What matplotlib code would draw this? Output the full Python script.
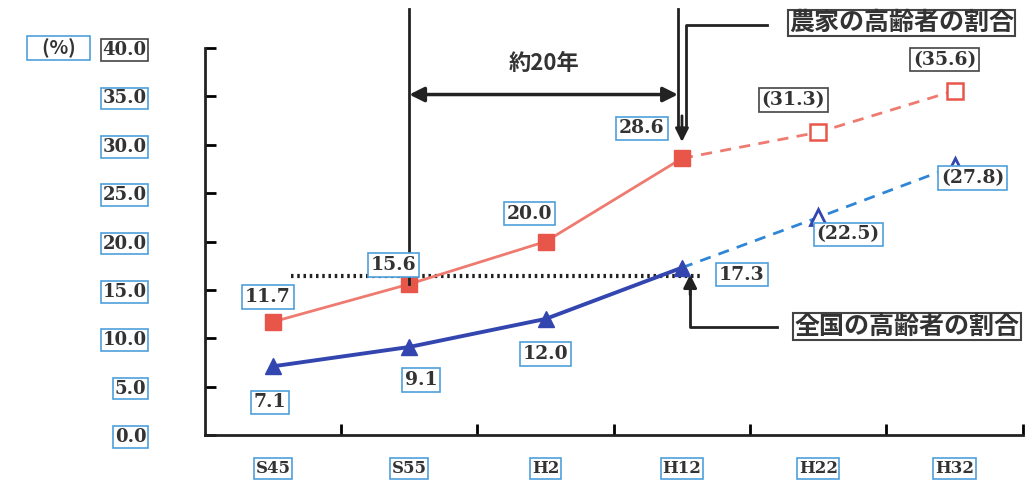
import matplotlib
matplotlib.use("Agg")
import matplotlib.pyplot as plt

plt.rcParams['font.family'] = ['Noto Sans CJK JP', 'DejaVu Sans']

# data
years = ['S45', 'S55', 'H2', 'H12', 'H22', 'H32']
farm = [11.7, 15.6, 20.0, 28.6, 31.3, 35.6]      # 農家の高齢者の割合
nation = [7.1, 9.1, 12.0, 17.3, 22.5, 27.8]     # 全国の高齢者の割合
n_actual = 4                                    # first 4 measured, rest projected
yticks = [0, 5, 10, 15, 20, 25, 30, 35, 40]

red = '#e8564a'
red_line = '#ee7a70'
blue = '#3346b0'
blue_dash = '#2f86d6'
box_blue = '#4f9fdc'
num_font = dict(family='DejaVu Serif', weight='bold', color='#333333')

fig = plt.figure(figsize=(10.29, 4.83), dpi=100)
ax = fig.add_axes([0.199, 0.0994, 0.795, 0.801])

x = list(range(len(years)))
xa = x[:n_actual]
xp = x[n_actual - 1:]

# lines
ax.plot(xa, farm[:n_actual], color=red_line, lw=2, zorder=3)
ax.plot(xp, farm[n_actual - 1:], color=red_line, lw=2, ls=(0, (4, 3)), zorder=3)
ax.plot(xa, farm[:n_actual], 's', color=red, ms=11, zorder=4)
ax.plot(x[n_actual:], farm[n_actual:], 's', mfc='white', mec=red, mew=1.8, ms=11, zorder=4)

ax.plot(xa, nation[:n_actual], color=blue, lw=2.8, zorder=3)
ax.plot(xp, nation[n_actual - 1:], color=blue_dash, lw=2, ls=(0, (4, 3)), zorder=3)
ax.plot(xa, nation[:n_actual], '^', color=blue, ms=11, zorder=4)
ax.plot(x[n_actual:], nation[n_actual:], '^', mfc='white', mec=blue, mew=2, ms=11, zorder=4)

# value labels
farm_off = [(-5, 25), (-16, 19), (-16, 28), (-40, 30), (-25, 32), (-10, 31)]
nation_off = [(-3, -36), (12, -33), (0, -35), (60, -7), (30, -17), (18, -12)]
for i in x:
    for vals, offs in ((farm, farm_off), (nation, nation_off)):
        v = vals[i]
        txt = f'{v:.1f}' if i < n_actual else f'({v:.1f})'
        ec = box_blue
        if vals is farm and i >= n_actual:
            ec = '#444444'
        ax.annotate(txt, (i, v), xytext=offs[i], textcoords='offset pixels',
                    ha='center', va='center', fontsize=13.5, zorder=6, **num_font,
                    bbox=dict(boxstyle='square,pad=0.15', fc='white', ec=ec, lw=1.2))

# dotted reference line
ax.plot([0.13, 3.15], [16.4, 16.4], color='#222222', lw=3, ls=(0, (0.6, 0.9)), zorder=2)

# "約20年" bracket
ax.plot([1, 1], [farm[1], 44], color='#222222', lw=2, clip_on=False, zorder=5)
ax.plot([2.97, 2.97], [31.5, 44], color='#222222', lw=2, clip_on=False, zorder=5)
ax.annotate('', xy=(2.97, 35.2), xytext=(1, 35.2),
            arrowprops=dict(arrowstyle='<|-|>', color='#222222', lw=2.5,
                            mutation_scale=22, shrinkA=0, shrinkB=0))
ax.text(1.99, 38.4, '約20年', ha='center', va='center', fontsize=16,
        fontweight='bold', color='#333333')

# callout: 農家
ax.plot([3.62, 3.03, 3.03], [42.4, 42.4, 32], color='#222222', lw=2, clip_on=False)
ax.annotate('', xy=(3.0, 30.3), xytext=(3.0, 33),
            arrowprops=dict(arrowstyle='-|>', color='#222222', lw=2,
                            mutation_scale=20, shrinkA=0, shrinkB=0))
ax.text(4.61, 42.6, '農家の高齢者の割合', ha='center', va='center', fontsize=18,
        fontweight='bold', color='#333333', zorder=6,
        bbox=dict(boxstyle='square,pad=0.05', fc='white', ec='#444444', lw=1.5))

# callout: 全国
ax.plot([3.7, 3.06, 3.06], [11.2, 11.2, 15.5], color='#222222', lw=2)
ax.annotate('', xy=(3.06, 16.6), xytext=(3.06, 14.5),
            arrowprops=dict(arrowstyle='-|>', color='#222222', lw=2,
                            mutation_scale=20, shrinkA=0, shrinkB=0))
ax.text(4.65, 11.2, '全国の高齢者の割合', ha='center', va='center', fontsize=18,
        fontweight='bold', color='#333333', zorder=6,
        bbox=dict(boxstyle='square,pad=0.05', fc='white', ec='#444444', lw=1.5))

# axes styling
ax.set_xlim(-0.5, 5.5)
ax.set_ylim(0, 40)
for s in ('top', 'right'):
    ax.spines[s].set_visible(False)
for s in ('left', 'bottom'):
    ax.spines[s].set_linewidth(2)
    ax.spines[s].set_color('#222222')

ax.set_yticks(yticks)
ax.set_yticklabels([f'{t:.1f}' for t in yticks], fontsize=13, **num_font)
ax.tick_params(axis='y', direction='in', length=8, width=2, pad=42)
for lab in ax.get_yticklabels():
    lab.set_bbox(dict(boxstyle='square,pad=0.1', fc='white', ec=box_blue, lw=1.2))
ax.get_yticklabels()[-1].get_bbox_patch().set_edgecolor('#444444')

ax.set_xticks(x)
ax.set_xticklabels(years, fontsize=12, **num_font)
ax.set_xticks([i + 0.5 for i in x], minor=True)
ax.tick_params(axis='x', which='major', length=0, pad=18)
ax.tick_params(axis='x', which='minor', direction='in', length=8, width=2)
for lab in ax.get_xticklabels():
    lab.set_bbox(dict(boxstyle='square,pad=0.1', fc='white', ec=box_blue, lw=1.2))

fig.text(0.057, 0.9, '   (%)   ', ha='center', va='center', fontsize=14,
         fontweight='bold', color='#333333',
         bbox=dict(boxstyle='square,pad=0.1', fc='white', ec=box_blue, lw=1.2))

fig.savefig('out.png', dpi=100)
